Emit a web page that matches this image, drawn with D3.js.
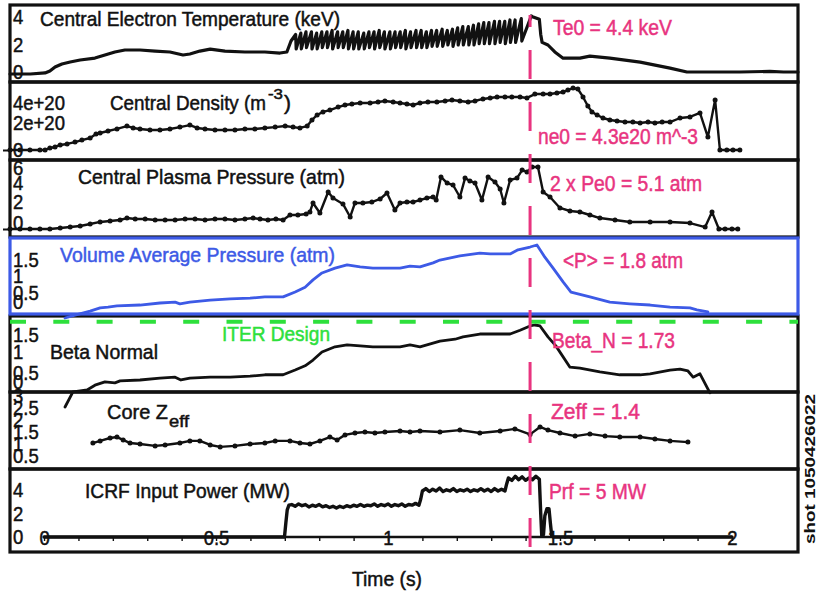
<!DOCTYPE html>
<html>
<head>
<meta charset="utf-8">
<script src="https://cdn.jsdelivr.net/npm/d3@7"></script>
<style>
  html, body { margin: 0; padding: 0; background: #fff; }
  svg { display: block; }
  text { font-family: "Liberation Sans", Arial, Helvetica, sans-serif; stroke-width: 0.5px; }
</style>
</head>
<body>
<svg id="chart" width="817" height="594"></svg>
<script>
// ---------------- shot data ----------------
const markTime = 1.413;      // time slice quoted in the pink labels
const iterBetaN = 1.8;       // ITER design normalised beta
const shotLabel = "shot 1050426022";

// Central electron temperature (keV): ohmic phase, sawtooth phase, decay
const teTime  = [-0.099, -0.04, 0.003, 0.017, 0.032, 0.052, 0.076, 0.105, 0.148, 0.177, 0.206, 0.235, 0.279, 0.323, 0.366, 0.404, 0.424, 0.453, 0.483, 0.526, 0.584, 0.642, 0.686, 0.706];
const teValue = [0.0, 0.0, 0.08, 0.23, 0.53, 0.76, 0.91, 1.06, 1.21, 1.44, 1.67, 1.82, 1.82, 1.74, 1.67, 1.44, 1.52, 1.74, 1.89, 1.74, 1.67, 1.67, 1.59, 1.67];
const teCrashTime = [0.718, 0.733, 0.748, 0.763, 0.779, 0.794, 0.809, 0.824, 0.839, 0.855, 0.870, 0.885, 0.900, 0.915, 0.931, 0.946, 0.961, 0.976, 0.991, 1.007, 1.022, 1.037, 1.052, 1.067, 1.083, 1.098, 1.113, 1.128, 1.143, 1.159, 1.174, 1.189, 1.204, 1.219, 1.235, 1.250, 1.265, 1.280, 1.295, 1.311, 1.326, 1.341, 1.356, 1.371, 1.389, 1.418];
const teToothPeak = [3.0, 3.1, 3.2, 3.2, 3.1, 3.2, 3.2, 3.3, 3.2, 3.2, 3.3, 3.2, 3.2, 3.1, 3.2, 3.2, 3.3, 3.2, 3.2, 3.2, 3.2, 3.3, 3.2, 3.3, 3.3, 3.2, 3.3, 3.3, 3.4, 3.3, 3.4, 3.5, 3.6, 3.6, 3.7, 3.8, 3.9, 3.9, 4.0, 4.0, 4.0, 4.1, 4.1, 4.2, 4.4];
const teToothTrough = [2.5, 1.9, 1.9, 2.0, 1.9, 1.9, 2.0, 2.0, 1.9, 2.0, 2.0, 1.9, 1.9, 1.9, 1.9, 2.0, 1.9, 2.0, 1.9, 1.9, 2.0, 2.0, 1.9, 2.0, 2.0, 2.0, 2.0, 2.1, 2.1, 2.1, 2.2, 2.1, 2.2, 2.2, 2.2, 2.2, 2.3, 2.3, 2.3, 2.3, 2.4, 2.3, 2.4, 2.4, 2.5];
const teTailTime  = [1.420, 1.440, 1.444, 1.448, 1.465, 1.485, 1.509, 1.558, 1.587, 1.645, 1.733, 1.820, 1.869, 1.907, 2.023, 2.110, 2.150, 2.192];
const teTailValue = [4.35, 4.15, 3.0, 2.4, 2.2, 1.67, 1.2, 1.2, 1.36, 1.2, 0.9, 0.45, 0.15, 0.15, 0.15, 0.2, 0.15, 0.15];

// Central density (1e20 m^-3)
const neTime  = [-0.099, -0.070, -0.041, -0.012, 0.003, 0.017, 0.032, 0.047, 0.067, 0.090, 0.110, 0.134, 0.151, 0.163, 0.186, 0.212, 0.241, 0.259, 0.279, 0.308, 0.337, 0.366, 0.395, 0.424, 0.445, 0.468, 0.497, 0.526, 0.555, 0.584, 0.613, 0.642, 0.672, 0.701, 0.724, 0.744, 0.765, 0.779, 0.794, 0.811, 0.831, 0.855, 0.875, 0.895, 0.919, 0.948, 0.971, 0.991, 1.015, 1.035, 1.055, 1.073, 1.093, 1.116, 1.142, 1.166, 1.186, 1.209, 1.233, 1.253, 1.276, 1.297, 1.317, 1.340, 1.360, 1.384, 1.404, 1.427, 1.451, 1.471, 1.491, 1.509, 1.523, 1.538, 1.552, 1.567, 1.581, 1.593, 1.608, 1.625, 1.645, 1.666, 1.689, 1.712, 1.733, 1.756, 1.776, 1.797, 1.820, 1.849, 1.878, 1.907, 1.930, 1.951, 1.965, 1.985, 2.003, 2.023];
const neValue = [0, 0, 0, 0, 0, 0.14, 0.21, 0.35, 0.42, 0.55, 0.69, 0.83, 1.11, 1.18, 1.32, 1.46, 1.66, 1.53, 1.46, 1.39, 1.39, 1.46, 1.59, 1.73, 1.53, 1.46, 1.39, 1.39, 1.39, 1.46, 1.46, 1.53, 1.59, 1.66, 1.59, 1.53, 1.66, 2.08, 2.43, 2.64, 2.77, 2.98, 3.12, 3.19, 3.26, 3.26, 3.33, 3.40, 3.33, 3.26, 3.19, 3.12, 3.26, 3.33, 3.33, 3.40, 3.47, 3.40, 3.33, 3.40, 3.54, 3.61, 3.68, 3.68, 3.68, 3.68, 3.61, 3.88, 3.88, 3.88, 3.95, 4.02, 4.16, 4.30, 4.23, 3.68, 3.05, 2.64, 2.43, 2.22, 2.08, 2.01, 1.94, 1.94, 1.87, 1.94, 1.87, 1.94, 1.94, 2.22, 2.29, 2.57, 0.90, 3.47, 0, 0, 0, 0];

// Central plasma pressure 2 x Pe0 (atm)
const peTime  = [-0.099, -0.070, -0.041, -0.012, 0.017, 0.047, 0.076, 0.105, 0.134, 0.163, 0.192, 0.221, 0.241, 0.265, 0.294, 0.323, 0.352, 0.381, 0.410, 0.439, 0.468, 0.497, 0.526, 0.555, 0.584, 0.608, 0.628, 0.651, 0.674, 0.695, 0.715, 0.738, 0.762, 0.773, 0.782, 0.802, 0.826, 0.840, 0.869, 0.890, 0.904, 0.927, 0.953, 0.977, 0.997, 1.020, 1.035, 1.055, 1.073, 1.093, 1.113, 1.131, 1.140, 1.154, 1.172, 1.189, 1.209, 1.224, 1.238, 1.253, 1.273, 1.291, 1.311, 1.326, 1.337, 1.355, 1.375, 1.390, 1.404, 1.419, 1.436, 1.451, 1.471, 1.500, 1.529, 1.558, 1.587, 1.616, 1.660, 1.703, 1.762, 1.820, 1.878, 1.922, 1.942, 1.962, 1.980, 2.000, 2.017];
const peValue = [0, 0, 0, 0, 0, 0.08, 0.16, 0.25, 0.41, 0.58, 0.66, 0.74, 0.90, 0.82, 0.82, 0.74, 0.74, 0.74, 0.82, 0.82, 0.74, 0.82, 0.82, 0.74, 0.82, 0.90, 0.82, 0.74, 0.82, 0.74, 1.15, 1.15, 1.23, 1.40, 2.14, 1.32, 3.04, 2.55, 2.06, 0.99, 2.14, 2.14, 2.22, 2.47, 2.96, 1.56, 2.14, 2.22, 2.22, 2.38, 2.55, 2.63, 2.38, 4.28, 3.78, 3.62, 2.63, 4.19, 3.95, 3.78, 2.38, 4.28, 3.87, 3.29, 2.14, 4.03, 4.19, 4.85, 4.69, 5.10, 5.10, 3.04, 2.63, 1.73, 1.48, 1.40, 1.15, 0.90, 0.74, 0.58, 0.58, 0.58, 0.49, 0.16, 1.40, 0, 0, 0, 0];

// Volume average pressure <P> (atm)
const vapTime  = [0.061, 0.090, 0.134, 0.163, 0.186, 0.212, 0.279, 0.337, 0.381, 0.395, 0.424, 0.483, 0.541, 0.599, 0.642, 0.695, 0.730, 0.759, 0.782, 0.808, 0.846, 0.881, 0.919, 0.956, 1.035, 1.064, 1.093, 1.131, 1.151, 1.209, 1.267, 1.297, 1.355, 1.378, 1.413, 1.433, 1.456, 1.480, 1.509, 1.532, 1.587, 1.645, 1.703, 1.762, 1.820, 1.878, 1.898, 1.930];
const vapValue = [0.0, 0.07, 0.17, 0.25, 0.27, 0.30, 0.32, 0.37, 0.39, 0.35, 0.39, 0.44, 0.47, 0.49, 0.52, 0.52, 0.64, 0.76, 0.94, 1.11, 1.23, 1.31, 1.26, 1.23, 1.23, 1.28, 1.26, 1.36, 1.43, 1.53, 1.60, 1.58, 1.58, 1.68, 1.75, 1.80, 1.50, 1.23, 0.89, 0.64, 0.52, 0.39, 0.35, 0.32, 0.27, 0.25, 0.20, 0.15];

// Normalised beta
const betaTime  = [0.061, 0.084, 0.105, 0.125, 0.148, 0.177, 0.206, 0.221, 0.279, 0.337, 0.381, 0.398, 0.424, 0.483, 0.541, 0.599, 0.642, 0.695, 0.730, 0.759, 0.782, 0.808, 0.846, 0.881, 0.919, 0.956, 1.035, 1.064, 1.093, 1.151, 1.195, 1.218, 1.267, 1.355, 1.384, 1.413, 1.427, 1.442, 1.465, 1.488, 1.529, 1.558, 1.616, 1.674, 1.733, 1.762, 1.820, 1.849, 1.872, 1.887, 1.907, 1.936];
const betaValue = [0.0, 0.32, 0.34, 0.36, 0.46, 0.53, 0.51, 0.55, 0.57, 0.61, 0.63, 0.57, 0.61, 0.63, 0.63, 0.65, 0.68, 0.68, 0.78, 0.87, 0.99, 1.16, 1.27, 1.31, 1.29, 1.27, 1.27, 1.31, 1.27, 1.39, 1.43, 1.48, 1.54, 1.54, 1.62, 1.71, 1.73, 1.71, 1.48, 1.29, 0.84, 0.82, 0.74, 0.68, 0.68, 0.70, 0.78, 0.80, 0.76, 0.63, 0.70, 0.30];

// Core Zeff
const zeffTime  = [0.142, 0.163, 0.192, 0.212, 0.230, 0.250, 0.279, 0.323, 0.352, 0.395, 0.424, 0.453, 0.483, 0.512, 0.555, 0.599, 0.642, 0.672, 0.715, 0.744, 0.773, 0.802, 0.831, 0.852, 0.875, 0.904, 0.933, 0.962, 0.991, 1.035, 1.064, 1.093, 1.151, 1.209, 1.267, 1.326, 1.369, 1.413, 1.442, 1.465, 1.500, 1.544, 1.587, 1.631, 1.674, 1.733, 1.776, 1.820, 1.872];
const zeffValue = [1.04, 1.13, 1.25, 1.29, 1.17, 1.04, 1.00, 0.92, 0.96, 1.04, 1.13, 1.13, 0.96, 0.88, 0.92, 1.00, 1.04, 1.13, 1.13, 1.04, 1.00, 1.13, 1.29, 1.17, 1.38, 1.46, 1.50, 1.46, 1.50, 1.54, 1.50, 1.54, 1.50, 1.58, 1.46, 1.54, 1.63, 1.40, 1.71, 1.58, 1.46, 1.33, 1.42, 1.33, 1.29, 1.29, 1.21, 1.13, 1.08];

// ICRF input power (MW)
const icrfTime  = [0, 0.699, 0.703, 0.707, 0.712, 0.72, 0.73, 0.74, 0.75, 0.76, 0.77, 0.78, 0.79, 0.80, 0.81, 0.82, 0.83, 0.84, 0.85, 0.86, 0.87, 0.88, 0.89, 0.90, 0.91, 0.92, 0.93, 0.94, 0.95, 0.96, 0.97, 0.98, 0.99, 1.00, 1.01, 1.02, 1.03, 1.04, 1.05, 1.06, 1.07, 1.08, 1.09, 1.095, 1.10, 1.11, 1.12, 1.13, 1.14, 1.15, 1.16, 1.17, 1.18, 1.19, 1.20, 1.21, 1.22, 1.23, 1.24, 1.25, 1.26, 1.27, 1.28, 1.29, 1.30, 1.31, 1.32, 1.33, 1.34, 1.345, 1.35, 1.36, 1.37, 1.38, 1.39, 1.40, 1.41, 1.42, 1.43, 1.44, 1.444, 1.447, 1.452, 1.456, 1.462, 1.468, 1.472, 1.476, 1.48, 2.0];
const icrfPower = [0, 0, 1.2, 2.3, 2.7, 2.75, 2.6, 2.8, 2.65, 2.75, 2.55, 2.7, 2.6, 2.75, 2.55, 2.65, 2.5, 2.6, 2.45, 2.6, 2.5, 2.65, 2.55, 2.7, 2.6, 2.75, 2.6, 2.7, 2.65, 2.8, 2.6, 2.75, 2.65, 2.8, 2.6, 2.75, 2.65, 2.8, 2.6, 2.75, 2.7, 2.85, 2.7, 3.2, 3.9, 4.1, 3.85, 4.05, 3.9, 4.15, 3.85, 4.0, 3.9, 4.1, 3.85, 4.0, 3.9, 4.05, 3.85, 4.0, 3.9, 4.1, 3.9, 4.05, 3.85, 4.1, 3.9, 4.05, 3.9, 4.5, 5.0, 4.8, 5.15, 4.85, 5.1, 4.8, 5.0, 4.85, 5.15, 4.9, 2.0, 0.1, 0.2, 1.8, 2.4, 2.4, 1.2, 0.1, 0, 0];

// Axis ticks
const teTicks = [0, 2, 4];
const neTicks = [0, 2, 4];              // units of 1e20
const peTicks = [0, 2, 4, 6];
const vapTicks = [0, 0.5, 1, 1.5];
const betaTicks = [0, 0.5, 1, 1.5];
const zeffTicks = [0.5, 1, 1.5, 2, 2.5, 3];
const icrfTicks = [0, 2, 4];
const timeTicks = [0, 0.5, 1, 1.5, 2];
const timeMinorTicks = d3.range(0, 2.0001, 0.1);

// Quoted values at the time slice
const markerLabels = {
  te: "Te0 = 4.4 keV",
  ne: "ne0 = 4.3e20 m^-3",
  pe: "2 x Pe0 = 5.1 atm",
  vap: "<P> = 1.8 atm",
  beta: "Beta_N = 1.73",
  zeff: "Zeff = 1.4",
  icrf: "Prf = 5 MW"
};

// ---------------- layout ----------------
const frameL = 10, frameR = 798;
const INK = "#111", PINK = "#e8347f", BLUE = "#3d5ae6", GREEN = "#2ee03c";

const svg = d3.select("#chart");

const x = d3.scaleLinear().domain([-0.099, 2.192]).range([frameL, frameR]);

// panel frames and value scales
const P = {
  te:   { top: 5,   bottom: 82,  y: d3.scaleLinear().domain([0, 4.4]).range([74, 16]),  tickPos: [72, 44.5, 17] },
  ne:   { top: 82,  bottom: 160, y: d3.scaleLinear().domain([0, 4.3]).range([150, 88]), tickPos: [150, 123, 103] },
  pe:   { top: 160, bottom: 237, y: d3.scaleLinear().domain([0, 5.1]).range([229, 167]), tickPos: [223, 202, 183, 168] },
  vap:  { top: 238, bottom: 314, y: d3.scaleLinear().domain([0, 1.8]).range([318, 245]), tickPos: [302, 293, 276, 260] },
  beta: { top: 316, bottom: 392, y: d3.scaleLinear().domain([0, 1.73]).range([407, 325]), tickPos: [382, 373, 352, 335] },
  zeff: { top: 392, bottom: 469, y: d3.scaleLinear().domain([0.5, 2.5]).range([456, 408]) },
  icrf: { top: 469, bottom: 552, y: d3.scaleLinear().domain([0, 5]).range([537, 478]) }
};

const zip = (a, b) => a.map((t, i) => [t, b[i]]);

// ---------------- frames ----------------
const frames = svg.append("g");
["te", "ne", "pe", "beta", "zeff", "icrf"].forEach(k => {
  frames.append("rect")
    .attr("x", frameL).attr("y", P[k].top)
    .attr("width", frameR - frameL).attr("height", P[k].bottom - P[k].top)
    .attr("fill", "none").attr("stroke", INK).attr("stroke-width", 3.2);
});

// ---------------- tick labels ----------------
// tall digits, squeezed horizontally
function tickLabels(ticks, scale, fmt) {
  const ax = d3.axisLeft(scale).tickValues(ticks).tickSize(0).tickPadding(0)
    .tickFormat(fmt || (d => String(d)));
  const g = svg.append("g").attr("transform", "translate(13,0)").call(ax);
  g.attr("font-size", null).attr("font-family", null);
  g.select(".domain").remove();
  g.selectAll("text").attr("x", 0).attr("text-anchor", "start")
    .attr("fill", INK).attr("stroke", INK).style("font-size", "21px")
    .each(function () {
      const w = this.getComputedTextLength();
      d3.select(this).attr("textLength", w * 0.88).attr("lengthAdjust", "spacingAndGlyphs");
    });
}
tickLabels(teTicks, d3.scaleLinear().domain(teTicks).range(P.te.tickPos));
tickLabels(neTicks, d3.scaleLinear().domain(neTicks).range(P.ne.tickPos), d => d === 0 ? "0" : d + "e+20");
tickLabels(peTicks, d3.scaleLinear().domain(peTicks).range(P.pe.tickPos));
tickLabels(vapTicks, d3.scaleLinear().domain(vapTicks).range(P.vap.tickPos));
tickLabels(betaTicks, d3.scaleLinear().domain(betaTicks).range(P.beta.tickPos));
tickLabels(zeffTicks, P.zeff.y);
tickLabels(icrfTicks, P.icrf.y);

// zero ticks just outside the frame
["ne", "pe"].forEach(k => {
  const g = svg.append("g").attr("transform", `translate(${frameL + 2},0)`)
    .call(d3.axisLeft(P[k].y).tickValues([0]).tickSize(9).tickFormat(""));
  g.select(".domain").remove();
  g.selectAll("line").attr("stroke", INK).attr("stroke-width", 2);
});

// ---------------- series ----------------
function drawLine(points, yScale, color, width) {
  svg.append("path")
    .datum(points)
    .attr("fill", "none").attr("stroke", color).attr("stroke-width", width)
    .attr("stroke-linejoin", "round").attr("stroke-linecap", "round")
    .attr("d", d3.line().x(d => x(d[0])).y(d => yScale(d[1])));
}
function drawDots(points, yScale, color, r) {
  svg.append("g").selectAll("circle").data(points).join("circle")
    .attr("cx", d => x(d[0])).attr("cy", d => yScale(d[1]))
    .attr("r", r).attr("fill", color);
}

// Te: ohmic part, then each sawtooth rises slowly and crashes
const tePoints = zip(teTime, teValue);
teToothPeak.forEach((pk, i) => {
  tePoints.push([teCrashTime[i], teToothTrough[i]]);
  tePoints.push([teCrashTime[i + 1] - 0.0015, pk]);
});
zip(teTailTime, teTailValue).forEach(p => tePoints.push(p));
drawLine(tePoints, P.te.y, INK, 3.2);

const nePoints = zip(neTime, neValue);
drawLine(nePoints, P.ne.y, INK, 2.4);
drawDots(nePoints, P.ne.y, INK, 2.5);

const pePoints = zip(peTime, peValue);
drawLine(pePoints, P.pe.y, INK, 2.4);
drawDots(pePoints, P.pe.y, INK, 2.5);

drawLine(zip(vapTime, vapValue), P.vap.y, BLUE, 2.8);

drawLine(zip(betaTime, betaValue), P.beta.y, INK, 2.8);

const zeffPoints = zip(zeffTime, zeffValue);
drawLine(zeffPoints, P.zeff.y, INK, 2.4);
drawDots(zeffPoints, P.zeff.y, INK, 2.5);

drawLine(zip(icrfTime, icrfPower), P.icrf.y, INK, 3.4);

// blue frame of the volume-average pressure panel
svg.append("rect")
  .attr("x", frameL).attr("y", P.vap.top)
  .attr("width", frameR - frameL).attr("height", P.vap.bottom - P.vap.top)
  .attr("fill", "none").attr("stroke", BLUE).attr("stroke-width", 3.2);

// ---------------- time axis ----------------
const y0 = P.icrf.y(0);
svg.append("line")
  .attr("x1", x(timeTicks[0])).attr("x2", x(timeTicks[timeTicks.length - 1]))
  .attr("y1", y0).attr("y2", y0).attr("stroke", INK).attr("stroke-width", 2.4);
const minor = svg.append("g").attr("transform", `translate(0,${y0})`)
  .call(d3.axisBottom(x).tickValues(timeMinorTicks).tickSize(4).tickFormat(""));
minor.select(".domain").remove();
minor.selectAll("line").attr("stroke", INK).attr("stroke-width", 1.4);
const major = svg.append("g").attr("transform", `translate(0,${y0})`)
  .call(d3.axisBottom(x).tickValues(timeTicks).tickSize(0).tickFormat(d => String(d)));
major.attr("font-size", null).attr("font-family", null);
major.select(".domain").remove();
major.selectAll("text").attr("y", 0).attr("dy", "0.36em")
  .attr("fill", INK).attr("stroke", INK).style("font-size", "21px")
  .each(function () {
    const w = this.getComputedTextLength();
    d3.select(this).attr("textLength", w * 0.88).attr("lengthAdjust", "spacingAndGlyphs");
  });

// ---------------- markers ----------------
// ITER design beta_N reference
svg.append("line")
  .attr("x1", frameL).attr("x2", frameR)
  .attr("y1", P.beta.y(iterBetaN)).attr("y2", P.beta.y(iterBetaN))
  .attr("stroke", GREEN).attr("stroke-width", 4)
  .attr("stroke-dasharray", "16 27.3");

// time slice
svg.append("line")
  .attr("x1", x(markTime)).attr("x2", x(markTime))
  .attr("y1", 15).attr("y2", 548)
  .attr("stroke", PINK).attr("stroke-width", 3)
  .attr("stroke-dasharray", "29 23").attr("stroke-dashoffset", 17);

// ---------------- text ----------------
function label(str, px, py, len, opts = {}) {
  const c = opts.color || INK;
  const t = svg.append("text").attr("x", px).attr("y", py).text(str)
    .attr("fill", c).attr("stroke", c)
    .style("font-size", (opts.size || 21) + "px");
  if (len) t.attr("textLength", len).attr("lengthAdjust", "spacingAndGlyphs");
  return t;
}

label("Central Electron Temperature (keV)", 40, 26, 300);
label("Central Density (m", 110, 110, 156);
label("-3", 268, 99, 15, { size: 14 });
label(")", 284, 110, 7);
label("Central Plasma Pressure (atm)", 78, 184, 267);
label("Volume Average Pressure (atm)", 60, 262, 275, { color: BLUE });
label("Beta Normal", 50, 359, 108);
label("ITER Design", 222, 341, 108, { color: GREEN });
label("Core Z", 107, 419, 61);
label("eff", 169, 427, 20, { size: 16 });
label("ICRF Input Power (MW)", 85, 498, 205);
label("Time (s)", 352, 586, 70);

label(markerLabels.te,   553, 35, 119, { color: PINK, size: 22 });
label(markerLabels.ne,   538, 144, 160, { color: PINK, size: 22 });
label(markerLabels.pe,   550, 191, 152, { color: PINK, size: 22 });
label(markerLabels.vap,  563, 268, 120, { color: PINK, size: 22 });
label(markerLabels.beta, 552, 348, 123, { color: PINK, size: 22 });
label(markerLabels.zeff, 551, 419, 89, { color: PINK, size: 22 });
label(markerLabels.icrf, 549, 499, 97, { color: PINK, size: 22 });

svg.append("text")
  .attr("transform", "translate(815,469) rotate(-90)")
  .attr("text-anchor", "middle")
  .style("font-size", "15px").style("font-weight", "bold")
  .attr("textLength", 150).attr("lengthAdjust", "spacingAndGlyphs")
  .attr("fill", INK).attr("stroke", "none")
  .text(shotLabel);
</script>
</body>
</html>
